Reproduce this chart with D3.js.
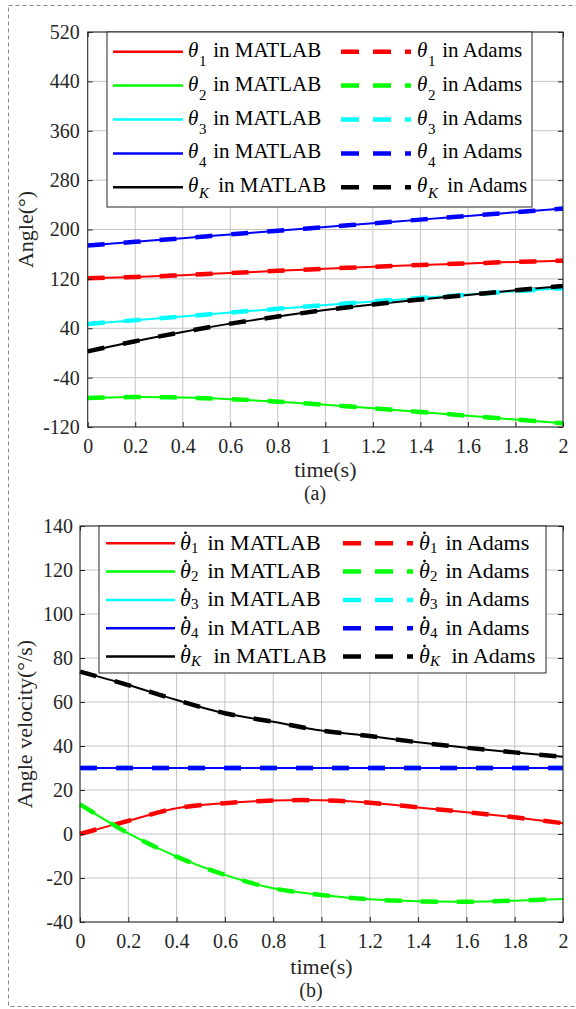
<!DOCTYPE html>
<html>
<head>
<meta charset="utf-8">
<script src="https://cdn.jsdelivr.net/npm/d3@7"></script>
<style>
  body { margin: 0; background: #fff; }
  svg { display: block; font-family: "Liberation Serif", "Times New Roman", serif; }
  .tick text { fill: #262626; font-size: 20px; font-family: "Liberation Serif", "Times New Roman", serif; }
  .label { fill: #262626; font-size: 22px; }
</style>
</head>
<body>
<div id="chart"></div>
<script>
// sample times (s)
var time = [0, 0.2, 0.4, 0.6, 0.8, 1.0, 1.2, 1.4, 1.6, 1.8, 2.0];

// joint angles (deg)
var theta1 = [121, 123, 126, 129.5, 133, 136.5, 139.5, 142.5, 145, 147.5, 149.5];
var theta2 = [-73, -71.5, -72.3, -75, -79, -84, -89.6, -95.6, -101.8, -108, -114];
var theta3 = [47, 53, 59, 65.5, 71.5, 77.5, 83.5, 89, 94.5, 100, 105];
var theta4 = [174, 180, 186, 192, 198, 204, 210, 216, 222, 228, 234];
var thetaK = [2.5, 19, 34, 47.5, 59, 69.5, 78.5, 86.5, 94, 101.5, 108.5];

// angular velocities (deg/s)
var omega1 = [0, 6, 11.7, 14, 15.2, 15.3, 14.2, 12.1, 9.9, 7.6, 4.9];
var omega2 = [13.5, 0.3, -10.3, -18.6, -24.7, -27.7, -29.7, -30.6, -30.8, -30.3, -29.5];
var omega3 = [30, 30, 30, 30, 30, 30, 30, 30, 30, 30, 30];
var omega4 = [30, 30, 30, 30, 30, 30, 30, 30, 30, 30, 30];
var omegaK = [73.8, 67.7, 60.9, 54.9, 51, 47, 44.5, 41.7, 39.2, 37.1, 35.1];

var timeTicks = ["0", "0.2", "0.4", "0.6", "0.8", "1", "1.2", "1.4", "1.6", "1.8", "2"];
var angleTicks = [-120, -40, 40, 120, 200, 280, 360, 440, 520];
var velocityTicks = [-40, -20, 0, 20, 40, 60, 80, 100, 120, 140];

var seriesSubs = ["1", "2", "3", "4", "K"];
var seriesColors = ["#ff0000", "#00ff00", "#00ffff", "#0000ff", "#000000"];

var width = 576, height = 1009;
var axisColor = "#262626";
var gridColor = "#c4c4c4";
var serif = "Liberation Serif, Times New Roman, serif";

var svg = d3.select("#chart").append("svg")
    .attr("width", width)
    .attr("height", height);

// dashed frame around the figure
svg.append("rect")
    .attr("x", 8.5).attr("y", 5.5)
    .attr("width", 570).attr("height", 1001)
    .style("fill", "none")
    .style("stroke", "#8a8a8a")
    .style("stroke-width", 1)
    .style("stroke-dasharray", "4,3");

function drawPanel(cfg) {
    var x = d3.scaleLinear().domain([0, 2]).range([cfg.left, cfg.right]);
    var y = d3.scaleLinear().domain(cfg.yDomain).range([cfg.bottom, cfg.top]);
    var g = svg.append("g");

    // grid
    g.append("g").selectAll("line").data(timeTicks).join("line")
        .attr("x1", function(d) { return x(+d); })
        .attr("x2", function(d) { return x(+d); })
        .attr("y1", cfg.top).attr("y2", cfg.bottom)
        .style("stroke", gridColor).style("stroke-width", 1);
    g.append("g").selectAll("line").data(cfg.yTicks).join("line")
        .attr("x1", cfg.left).attr("x2", cfg.right)
        .attr("y1", function(d) { return y(d); })
        .attr("y2", function(d) { return y(d); })
        .style("stroke", gridColor).style("stroke-width", 1);

    var line = d3.line()
        .x(function(d, i) { return x(time[i]); })
        .y(function(d) { return y(d); })
        .curve(d3.curveCatmullRom);

    // MATLAB results (solid) then Adams results (dashed) on top
    cfg.series.forEach(function(s, i) {
        g.append("path").datum(s)
            .attr("d", line)
            .style("fill", "none")
            .style("stroke", seriesColors[i])
            .style("stroke-width", 2);
    });
    cfg.series.forEach(function(s, i) {
        g.append("path").datum(s)
            .attr("d", line)
            .style("fill", "none")
            .style("stroke", seriesColors[i])
            .style("stroke-width", 4.5)
            .style("stroke-dasharray", "17,19");
    });

    // axes with inward ticks
    var xAxis = g.append("g")
        .attr("transform", "translate(0," + cfg.bottom + ")")
        .call(d3.axisBottom(x).tickValues(timeTicks.map(Number))
            .tickFormat(function(d, i) { return timeTicks[i]; })
            .tickSizeInner(-5).tickSizeOuter(0).tickPadding(12));
    var yAxis = g.append("g")
        .attr("transform", "translate(" + cfg.left + ",0)")
        .call(d3.axisLeft(y).tickValues(cfg.yTicks)
            .tickFormat(function(d) { return String(d); })
            .tickSizeInner(-5).tickSizeOuter(0).tickPadding(cfg.yPad));
    var topAxis = g.append("g")
        .attr("transform", "translate(0," + cfg.top + ")")
        .call(d3.axisTop(x).tickValues(timeTicks.map(Number)).tickFormat("")
            .tickSizeInner(-5).tickSizeOuter(0));
    var rightAxis = g.append("g")
        .attr("transform", "translate(" + cfg.right + ",0)")
        .call(d3.axisRight(y).tickValues(cfg.yTicks).tickFormat("")
            .tickSizeInner(-5).tickSizeOuter(0));
    [xAxis, yAxis, topAxis, rightAxis].forEach(function(a) {
        a.attr("font-family", serif).attr("font-size", 20);
        a.select(".domain").remove();
        a.selectAll(".tick line").style("stroke", axisColor);
        a.selectAll(".tick text").attr("fill", axisColor);
    });

    g.append("rect")
        .attr("x", cfg.left).attr("y", cfg.top)
        .attr("width", cfg.right - cfg.left).attr("height", cfg.bottom - cfg.top)
        .style("fill", "none").style("stroke", axisColor).style("stroke-width", 1);

    // axis labels
    g.append("text").classed("label", true)
        .attr("transform", "translate(" + cfg.yLabelX + "," + ((cfg.top + cfg.bottom) / 2) + ") rotate(-90)")
        .attr("text-anchor", "middle")
        .text(cfg.yLabel);
    g.append("text").classed("label", true)
        .attr("x", (cfg.left + cfg.right) / 2)
        .attr("y", cfg.bottom + cfg.xLabelDy)
        .attr("text-anchor", "middle")
        .text("time(s)");
    g.append("text").classed("label", true)
        .attr("x", cfg.captionX)
        .attr("y", cfg.bottom + cfg.captionDy)
        .attr("text-anchor", "middle")
        .style("font-size", "20px")
        .text(cfg.caption);

    drawLegend(g, cfg.legend);
}

function drawLegend(container, lg) {
    var legend = container.append("g")
        .attr("transform", "translate(" + lg.x + "," + lg.y + ")");

    legend.append("rect")
        .attr("width", lg.width).attr("height", lg.height)
        .style("fill", "#fff").style("stroke", axisColor).style("stroke-width", 1);

    seriesSubs.forEach(function(sub, i) {
        var cy = lg.firstRow + i * lg.rowStep;
        var base = cy + lg.baseDy;
        var isK = sub === "K";

        legend.append("line")
            .attr("x1", lg.solid[0]).attr("x2", lg.solid[1])
            .attr("y1", cy).attr("y2", cy)
            .style("stroke", seriesColors[i]).style("stroke-width", 2.5);
        legend.append("line")
            .attr("x1", lg.dashed[0]).attr("x2", lg.dashed[1])
            .attr("y1", cy).attr("y2", cy)
            .style("stroke", seriesColors[i]).style("stroke-width", 4.5)
            .style("stroke-dasharray", "18,14");

        [[lg.solidText, " in MATLAB", lg.inDx], [lg.dashedText, " in Adams", lg.inDxAdams]].forEach(function(e) {
            var tx = e[0];
            var t = legend.append("text")
                .attr("y", base)
                .style("font-size", lg.fontSize + "px")
                .style("fill", "#000");
            t.append("tspan")
                .attr("x", tx)
                .style("font-style", "italic")
                .text("\u03b8");
            t.append("tspan")
                .attr("x", tx + lg.subDx)
                .attr("y", base + (isK ? lg.subKDy : lg.subDy))
                .style("font-size", lg.subSize + "px")
                .style("font-style", isK ? "italic" : "normal")
                .text(sub);
            t.append("tspan")
                .attr("x", tx + (isK ? e[2] + lg.kExtra : e[2]) - 5)
                .attr("y", base)
                .text(e[1]);
            if (lg.dot) {
                legend.append("circle")
                    .attr("cx", tx + 5.5).attr("cy", base - 17)
                    .attr("r", 1.4)
                    .style("fill", "#000");
            }
        });
    });
}

drawPanel({
    left: 87.7, right: 563, top: 32, bottom: 427,
    yDomain: [-120, 520], yTicks: angleTicks, yPad: 8,
    series: [theta1, theta2, theta3, theta4, thetaK],
    yLabel: "Angle(\u00b0)", yLabelX: 33,
    xLabelDy: 50, caption: "(a)", captionX: 315, captionDy: 73,
    legend: {
        x: 107, y: 32, width: 425, height: 175,
        firstRow: 19.7, rowStep: 33.9, baseDy: 5,
        solid: [6, 76], dashed: [234, 304],
        solidText: 81, dashedText: 310,
        inDx: 25, inDxAdams: 25, kExtra: 5,
        subDx: 11, subDy: 9, subKDy: 6,
        fontSize: 21, subSize: 15, dot: false
    }
});

drawPanel({
    left: 80, right: 563, top: 526, bottom: 922,
    yDomain: [-40, 140], yTicks: velocityTicks, yPad: 7,
    series: [omega1, omega2, omega3, omega4, omegaK],
    yLabel: "Angle velocity(\u00b0/s)", yLabelX: 32,
    xLabelDy: 52, caption: "(b)", captionX: 311, captionDy: 75,
    legend: {
        x: 99, y: 526, width: 447, height: 147,
        firstRow: 17.3, rowStep: 28.3, baseDy: 6.5,
        solid: [7, 76], dashed: [244, 314],
        solidText: 81, dashedText: 320,
        inDx: 27, inDxAdams: 26, kExtra: 6,
        subDx: 11, subDy: 3, subKDy: 3,
        fontSize: 22, subSize: 15, dot: true
    }
});
</script>
</body>
</html>
